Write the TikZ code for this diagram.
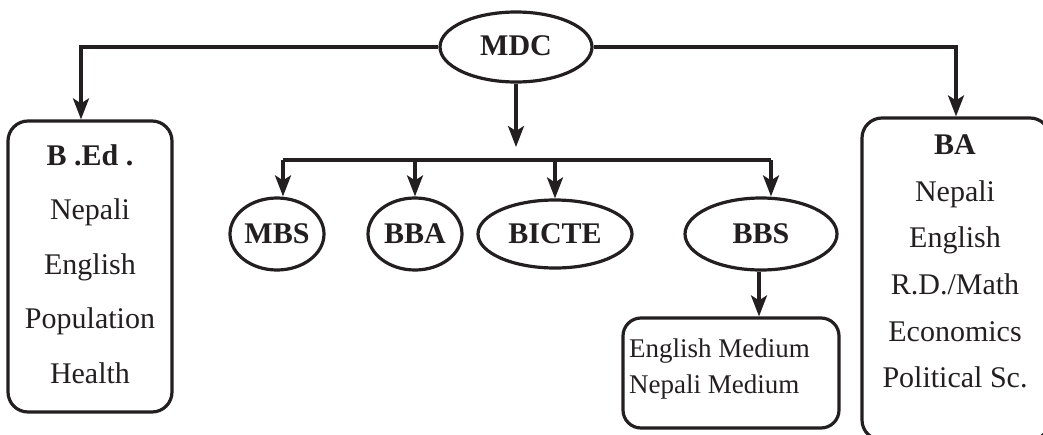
\documentclass[tikz,border=0pt]{standalone}
\usepackage{fontspec}
\setmainfont{Liberation Serif}
\usetikzlibrary{shapes.geometric,arrows.meta}
\definecolor{ink}{HTML}{231F20}
\tikzset{
  line/.style={line width=3.2pt, draw=ink},
  arr/.style={line, -{Stealth[length=21pt,width=16pt,inset=5pt]}},
  oval/.style={ellipse, line, inner sep=0pt, text=ink, font=\fontsize{30}{36}\selectfont\bfseries},
  rbox/.style={rectangle, line, rounded corners=20pt, inner sep=0pt},
  txt/.style={inner sep=0pt, align=center, text=ink},
}
\begin{document}
\begin{tikzpicture}[x=1pt,y=-1pt]
\useasboundingbox (0,0) rectangle (1043,434);
\clip (0,0) rectangle (1043,434);
% top node
\node[oval, minimum width=152pt, minimum height=70pt] (mdc) at (516,47) {\raisebox{3pt}{MDC}};
% side boxes
\node[rbox, minimum width=164pt, minimum height=291pt] (bed) at (90,266.5) {};
\node[txt, font=\fontsize{30}{54.5}\selectfont] (bedtext) at (90,264) {\textbf{B .Ed .}\\Nepali\\English\\Population\\Health};
\node[rbox, minimum width=188pt, minimum height=322pt] (ba) at (956,279) {};
\node[txt, font=\fontsize{30}{46.6}\selectfont] (batext) at (955,261.5) {\textbf{BA}\\Nepali\\English\\R.D./Math\\Economics\\Political Sc.};
% middle ovals
\node[oval, minimum width=94pt, minimum height=72pt] (mbs) at (277,234) {MBS};
\node[oval, minimum width=94pt, minimum height=72pt] (bba) at (415,234) {BBA};
\node[oval, minimum width=154pt, minimum height=68pt] (bicte) at (555,234) {BICTE};
\node[oval, minimum width=152pt, minimum height=72pt] (bbs) at (761,234) {BBS};
% BBS box
\node[rbox, rounded corners=18pt, minimum width=216pt, minimum height=110pt] (medbox) at (731,373) {};
\node[inner sep=0pt, align=left, anchor=west, text=ink, font=\fontsize{27}{36}\selectfont] (medtext) at (629,368.7) {English Medium\\Nepali Medium};
% bar coordinates
\coordinate (hub) at (516,160);
\coordinate (bl) at (283,160);
\coordinate (br) at (771,160);
% connectors
\draw[arr] (mdc.west) -| ([xshift=-9pt]bed.north);
\draw[arr] (mdc.east) -| (ba.north);
\draw[arr] (mdc.south) -- ([yshift=13pt]hub);
\draw[line] (bl) -- (br);
\draw[arr] (bl) -- (bl |- mbs.north);
\draw[arr] (bl -| bba.north) -- (bba.north);
\draw[arr] (bl -| bicte.north) -- (bicte.north);
\draw[arr] (br) -- (br |- bbs.north);
\draw[arr] ([xshift=-2pt]bbs.south) -- ([xshift=-2pt]bbs.south |- medbox.north);
\end{tikzpicture}
\end{document}
